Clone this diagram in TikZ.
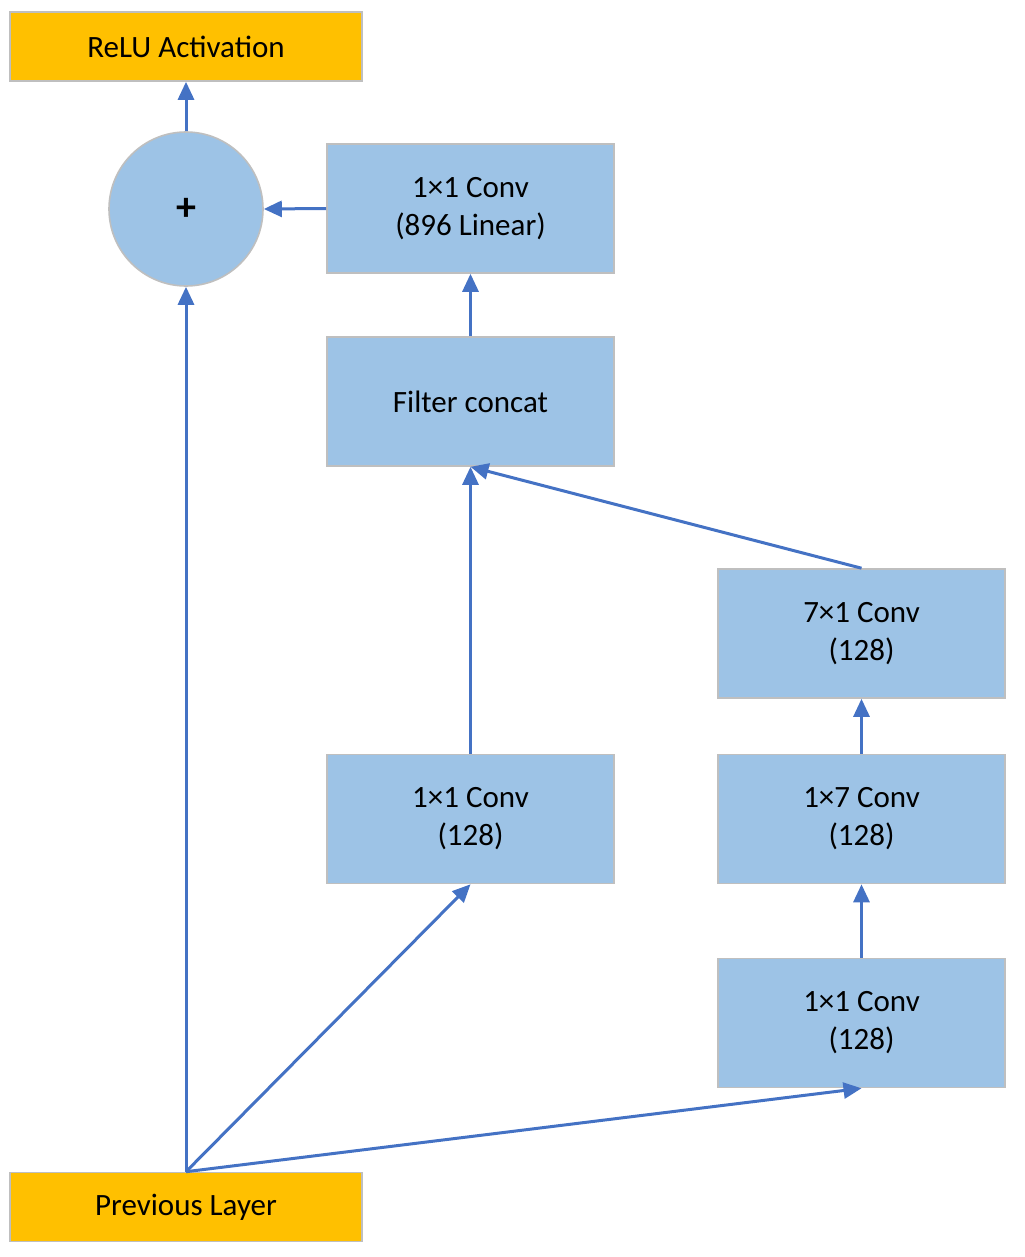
\documentclass[tikz,border=0pt]{standalone}
\usepackage{fontspec}
\setmainfont{Carlito}
\usetikzlibrary{arrows.meta}
\definecolor{bfill}{HTML}{9DC3E6}
\definecolor{bdraw}{HTML}{BFBFBF}
\definecolor{ofill}{HTML}{FFC000}
\definecolor{arr}{HTML}{4472C4}
\begin{document}
\begin{tikzpicture}[x=0.5pt,y=-0.5pt,
  box/.style={draw=bdraw,fill=bfill,line width=0.8pt,minimum width=143.5pt,minimum height=64.5pt,align=center,font=\fontsize{15.5}{19}\selectfont,inner sep=0pt},
  obox/.style={draw=bdraw,fill=ofill,line width=0.8pt,minimum width=176pt,minimum height=34.5pt,font=\fontsize{15.5}{19}\selectfont,inner sep=0pt},
  a/.style={draw=arr,line width=1.5pt,-{Triangle[length=9pt,width=8pt]}}]
\useasboundingbox (0,0) rectangle (1024,1257);
\node[obox] (relu) at (186,46.5) {ReLU Activation};
\node[obox] (prev) at (186,1207) {Previous Layer};
\node[circle,draw=bdraw,fill=bfill,line width=0.8pt,minimum size=77pt,inner sep=0pt,font=\fontsize{20}{24}\selectfont\bfseries] (plus) at (186,209) {+};
\node[box] (lin) at (470.5,208.5) {1×1 Conv\\(896 Linear)};
\node[box] (cat) at (470.5,401.5) {Filter concat};
\node[box] (s71) at (861.5,633.5) {7×1 Conv\\(128)};
\node[box] (m11) at (470.5,819) {1×1 Conv\\(128)};
\node[box] (s17) at (861.5,819) {1×7 Conv\\(128)};
\node[box] (r11) at (861.5,1023) {1×1 Conv\\(128)};
\draw[a] (plus.north) -- (relu.south);
\draw[a] (lin.west) -- (plus.east);
\draw[a] (cat.north) -- (lin.south);
\draw[a] (m11.north) -- (cat.south);
\draw[a] (s71.north) -- (cat.south);
\draw[a] (s17.north) -- (s71.south);
\draw[a] (r11.north) -- (s17.south);
\draw[a] (prev.north) -- (plus.south);
\draw[a] (prev.north) -- (m11.south);
\draw[a] (prev.north) -- (r11.south);
\end{tikzpicture}
\end{document}
